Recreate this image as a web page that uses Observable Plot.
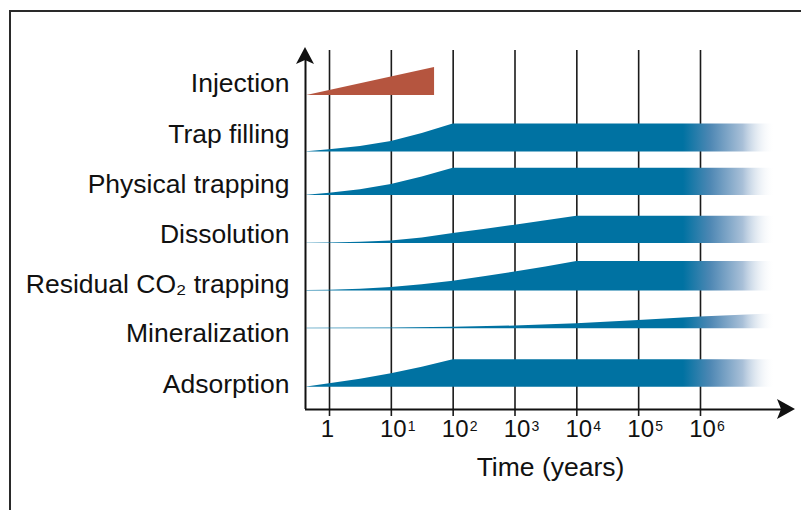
<!DOCTYPE html>
<html>
<head>
<meta charset="utf-8">
<script src="https://cdn.jsdelivr.net/npm/d3@7"></script>
<script src="https://cdn.jsdelivr.net/npm/@observablehq/plot@0.6"></script>
<style>
  body { margin: 0; background: #ffffff; }
  #wrap { position: relative; width: 801px; height: 510px; overflow: hidden; }
  #frame { position: absolute; left: 9px; top: 10px; right: -4px; bottom: -4px;
           border-top: 2px solid #2a2a2a; border-left: 2px solid #2a2a2a; pointer-events: none; }
  svg { font-family: "Liberation Sans", Arial, Helvetica, sans-serif; }
</style>
</head>
<body>
<div id="wrap"><div id="frame"></div></div>
<script>
// ---- data ----
const rowNames = ["Injection", "Trap filling", "Physical trapping", "Dissolution",
                  "Residual CO₂ trapping", "Mineralization", "Adsorption"];
// vertical level of each row label and of each band's baseline (arbitrary units)
const labelLevels = [326, 275, 225, 175, 125, 76, 25];
const baseLevels  = [314, 257.5, 214, 166, 118.5, 80.7, 22.3];

// [time in years, band thickness]
const injection      = [[0.43, 0], [50, 28]];
const trapFilling    = [[0.43, 0.3], [1, 2.2], [3.16, 5.5], [10, 10.5], [31.6, 18.5], [100, 28], [1.76e7, 28]];
const physical       = [[0.43, 0.3], [1, 2.3], [3.16, 5.8], [10, 11], [31.6, 18.5], [100, 27.3], [1.76e7, 27.3]];
const dissolution    = [[0.43, 0.3], [1, 0.6], [3.16, 1.3], [10, 2.6], [31.6, 5.5], [100, 10], [316, 14],
                        [1000, 18.3], [3162, 22.8], [1e4, 27.3], [1.76e7, 27.3]];
const residual       = [[0.43, 0.4], [1, 0.8], [3.16, 1.8], [10, 3.5], [31.6, 6.3], [100, 9.8], [316, 14.2],
                        [1000, 19], [3162, 24], [1e4, 29.5], [1.76e7, 29.5]];
const mineralization = [[0.43, 0.5], [10, 0.8], [100, 1.5], [1000, 2.8], [1e4, 5], [1e5, 8.3], [1e6, 11.7], [1.76e7, 15]];
const adsorption     = [[0.43, 0.3], [1, 3.4], [3.16, 8], [10, 13.4], [31.6, 20], [100, 27.4], [1.76e7, 27.4]];
const profiles = [injection, trapFilling, physical, dissolution, residual, mineralization, adsorption];

const decades = [0, 1, 2, 3, 4, 5, 6];
const xDomain = [0.409, 3.44e7];
const yDomain = [0, 362];
const gridTop = 359;
const fadeFrom = 5.3e5, fadeTo = 1.63e7;

const blue = "#0072a2";
const red = "#b5553f";

const bands = rowNames.flatMap((name, i) =>
  profiles[i].map(([t, w]) => ({name, t, lo: baseLevels[i], hi: baseLevels[i] + w})));
const labels = rowNames.map((name, i) => ({name, level: labelLevels[i]}));

const gradient = (index, scales) => {
  const defs = d3.create("svg:defs");
  const g = defs.append("linearGradient").attr("id", "fade")
    .attr("gradientUnits", "userSpaceOnUse")
    .attr("x1", scales.x(fadeFrom)).attr("x2", scales.x(fadeTo))
    .attr("y1", 0).attr("y2", 0);
  [[0, blue, 1], [0.3, "#4f88b4", 1], [0.65, "#a9c0d8", 1], [1, "#ffffff", 0]].forEach(([o, c, a]) =>
    g.append("stop").attr("offset", o).attr("stop-color", c).attr("stop-opacity", a));
  return defs.node();
};

const arrows = (index, scales) => {
  const x0 = scales.x(xDomain[0]), x1 = scales.x(xDomain[1]);
  const y0 = scales.y(yDomain[0]), y1 = scales.y(yDomain[1]);
  const g = d3.create("svg:g").attr("fill", "#111");
  g.append("path").attr("d", `M${x0},${y1}L${x0 + 9},${y1 + 17}L${x0},${y1 + 13}L${x0 - 9},${y1 + 17}Z`);
  g.append("path").attr("d", `M${x1},${y0}L${x1 - 18},${y0 - 10}L${x1 - 14},${y0}L${x1 - 18},${y0 + 10}Z`);
  return g.node();
};

const chart = Plot.plot({
  width: 801,
  height: 510,
  marginLeft: 305,
  marginRight: 6,
  marginTop: 47,
  marginBottom: 101,
  style: {background: "transparent", fontFamily: "Liberation Sans, Arial, Helvetica, sans-serif", color: "#111"},
  x: {type: "log", domain: xDomain, axis: null},
  y: {domain: yDomain, axis: null},
  marks: [
    gradient,
    Plot.ruleX(decades, {x: d => 10 ** d, y1: yDomain[0], y2: gridTop, stroke: "#1a1a1a", strokeWidth: 1.6}),
    Plot.axisX(decades.map(d => 10 ** d), {tickSize: 7, tickFormat: () => "", label: null,
      strokeWidth: 1.6, stroke: "#1a1a1a"}),
    Plot.areaY(bands.filter(d => d.name !== "Injection"), {x: "t", y1: "lo", y2: "hi", z: "name", fill: "url(#fade)"}),
    Plot.areaY(bands.filter(d => d.name === "Injection"), {x: "t", y1: "lo", y2: "hi", fill: red}),
    Plot.ruleX([xDomain[0]], {y1: yDomain[0], y2: yDomain[1] - 8, stroke: "#111", strokeWidth: 2}),
    Plot.ruleY([yDomain[0]], {x1: xDomain[0], x2: xDomain[1] * 0.6, stroke: "#111", strokeWidth: 2}),
    arrows,
    Plot.text(labels, {y: "level", text: "name", frameAnchor: "left", dx: -16, textAnchor: "end",
      fontSize: 26.5, fill: "#111"}),
    Plot.text(decades.filter(d => d === 0), {x: d => 10 ** d, text: () => "1", frameAnchor: "bottom",
      dy: 27, dx: -2, fontSize: 24, fill: "#111"}),
    Plot.text(decades.filter(d => d > 0), {x: d => 10 ** d, text: () => "10", frameAnchor: "bottom",
      dy: 27, dx: 2, fontSize: 24, fill: "#111"}),
    Plot.text(decades.filter(d => d > 0), {x: d => 10 ** d, text: d => String(d), frameAnchor: "bottom",
      dy: 21, dx: 16.5, textAnchor: "start", fontSize: 14, fill: "#111"}),
    Plot.text(["Time (years)"], {text: d => d, frameAnchor: "bottom", dy: 66, fontSize: 26.5, fill: "#111"})
  ]
});
document.getElementById("wrap").prepend(chart);
</script>
</body>
</html>
